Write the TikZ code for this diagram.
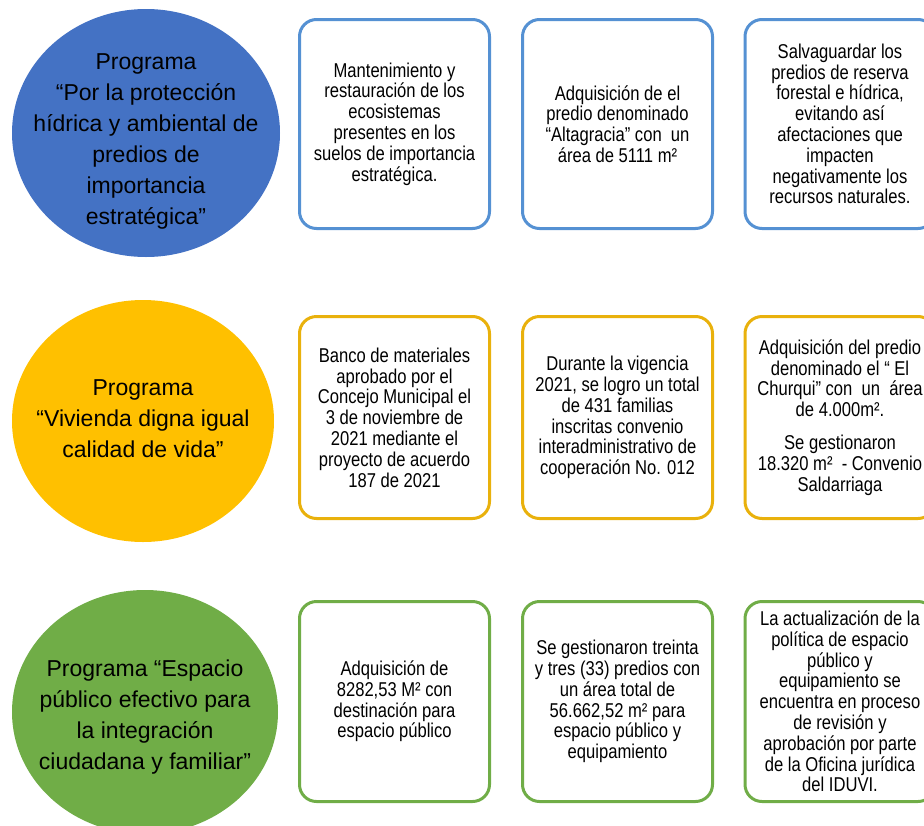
\documentclass[tikz,border=0pt]{standalone}
\usepackage{fontspec}
\setmainfont{Liberation Sans}
\newfontfamily\narrowfont{Liberation Sans}[FakeStretch=0.83]
\usetikzlibrary{shapes.geometric}
\definecolor{cblue}{HTML}{4472C4}
\definecolor{cyellow}{HTML}{FFC000}
\definecolor{cgreen}{HTML}{70AD47}
\definecolor{bblue}{HTML}{5591D3}
\definecolor{byellow}{HTML}{E9B10C}
\definecolor{bgreen}{HTML}{70AD47}
\begin{document}
\begin{tikzpicture}[x=1pt,y=-1pt,
  prog/.style={ellipse,draw=none,inner sep=0pt},
  progtext/.style={align=center,inner sep=0pt,font=\fontsize{23}{31}\selectfont},
  infobox/.style={draw,line width=3pt,rounded corners=17pt,fill=white,
    minimum width=190pt,inner sep=0pt,align=center,
    font=\narrowfont\fontsize{20}{20.8}\selectfont}]
\useasboundingbox (0,0) rectangle (924,825);
\clip (0,0) rectangle (924,825);

% circles
\node[prog,fill=cblue,minimum width=268pt,minimum height=248pt] (c1) at (146,133) {};
\node[progtext] (t1) at (146,141) {Programa\\“Por la protección\\hídrica y ambiental de\\predios de\\importancia\\estratégica”};

\node[prog,fill=cyellow,minimum width=262pt,minimum height=242pt] (c2) at (143,421) {};
\node[progtext] (t2) at (143,419) {Programa\\“Vivienda digna igual\\calidad de vida”};

\node[prog,fill=cgreen,minimum width=266pt,minimum height=244pt] (c3) at (145,712) {};
\node[progtext] (t3) at (145,717) {Programa “Espacio\\público efectivo para\\la integración\\ciudadana y familiar”};

% row 1
\begin{scope}[every node/.append style={minimum height=209pt}]
\node[infobox,draw=bblue] (b11) at (394.5,124) {Mantenimiento y\\restauración de los\\ecosistemas\\presentes en los\\suelos de importancia\\estratégica.};
\node[infobox,draw=bblue] (b12) at (617.5,124) {Adquisición de el\\predio denominado\\“Altagracia” con\ \ un\\área de 5111 m²};
\node[infobox,draw=bblue] (b13) at (840,124) {Salvaguardar los\\predios de reserva\\forestal e hídrica,\\evitando así\\afectaciones que\\impacten\\negativamente los\\recursos naturales.};
\end{scope}

% row 2
\begin{scope}[every node/.append style={minimum height=202pt}]
\node[infobox,draw=byellow] (b21) at (394.5,417.5) {Banco de materiales\\aprobado por el\\Concejo Municipal el\\3 de noviembre de\\2021 mediante el\\proyecto de acuerdo\\187 de 2021};
\node[infobox,draw=byellow] (b22) at (617.5,417.5) {Durante la vigencia\\2021, se logro un total\\de 431 familias\\inscritas convenio\\interadministrativo de\\cooperación No. 012};
\node[infobox,draw=byellow] (b23) at (840,417.5) {Adquisición del predio\\denominado el “ El\\Churqui” con\ \ un\ \ área\\de 4.000m².\\[12pt]Se gestionaron\\18.320 m²\ \ - Convenio\\Saldarriaga};
\end{scope}

% row 3
\begin{scope}[every node/.append style={minimum height=200pt}]
\node[infobox,draw=bgreen] (b31) at (394.5,701.5) {Adquisición de\\8282,53 M² con\\destinación para\\espacio público};
\node[infobox,draw=bgreen] (b32) at (617.5,701.5) {Se gestionaron treinta\\y tres (33) predios con\\un área total de\\56.662,52 m² para\\espacio público y\\equipamiento};
\node[infobox,draw=bgreen] (b33) at (840,701.5) {La actualización de la\\política de espacio\\público y\\equipamiento se\\encuentra en proceso\\de revisión y\\aprobación por parte\\de la Oficina jurídica\\del IDUVI.};
\end{scope}
\end{tikzpicture}
\end{document}
